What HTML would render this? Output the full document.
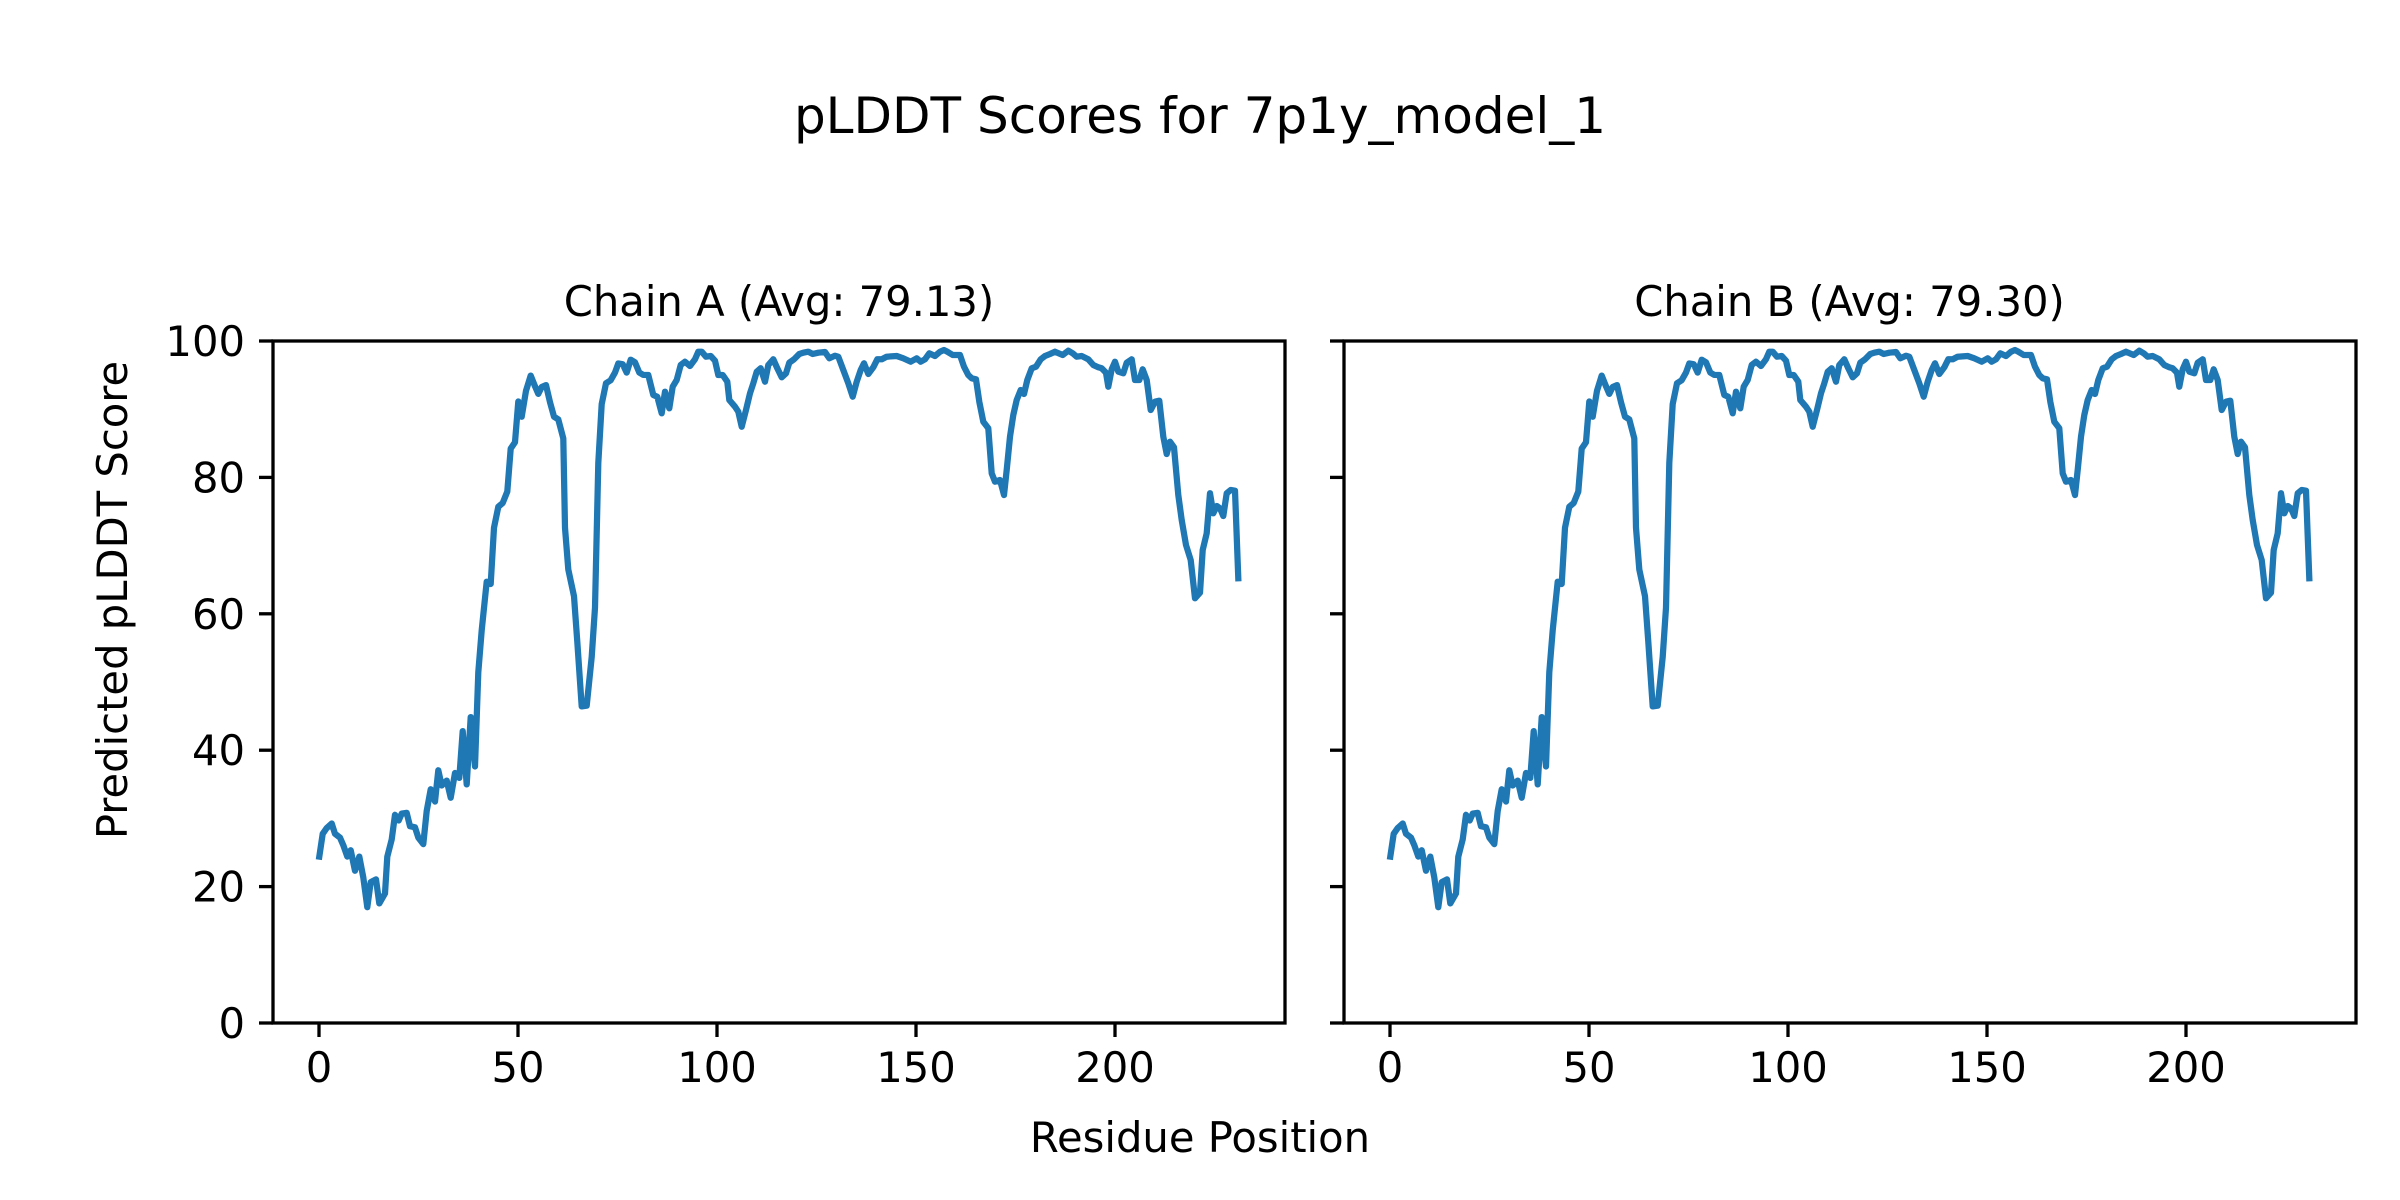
<!DOCTYPE html>
<html><head><meta charset="utf-8"><style>html,body{margin:0;padding:0;background:#fff}svg{display:block}</style></head>
<body>
<svg width="2400" height="1200" viewBox="0 0 2400 1200" xmlns="http://www.w3.org/2000/svg" font-family="DejaVu Sans, Liberation Sans, sans-serif">
<rect width="2400" height="1200" fill="#fff"/>
<text x="1200" y="133" font-size="50" text-anchor="middle">pLDDT Scores for 7p1y_model_1</text>
<text x="779" y="316" font-size="41.7" text-anchor="middle">Chain A (Avg: 79.13)</text>
<text x="1849.5" y="316" font-size="41.7" text-anchor="middle">Chain B (Avg: 79.30)</text>
<text x="1200" y="1152" font-size="41.7" text-anchor="middle">Residue Position</text>
<text transform="translate(127,600) rotate(-90)" font-size="41.7" text-anchor="middle">Predicted pLDDT Score</text>
<defs>
<polyline id="series" fill="none" stroke="#1f77b4" stroke-width="6.25" stroke-linejoin="round" stroke-linecap="square" points="319.3,856.6 322.7,833.8 326.7,828.1 331.7,823.5 335,833.8 340,837.6 343.3,845.2 347.3,856.6 350.7,850.2 355,870.7 359.3,856.6 363.3,877.5 367.3,907.2 370.7,882.1 376,879.4 379.3,903.4 385,893.5 387.3,856.6 391.7,839.5 395,814.8 398.7,820.5 401.7,813.6 406.7,812.9 410,826.2 415,827.3 418.3,837.6 423.3,844.1 426.7,811 430.7,789.3 435,801.5 438.3,770.3 441.7,785.5 446.7,780.6 450.7,797.7 455,773 459.3,777.9 462.7,731.1 466.7,784.4 470.7,717.1 475,766.5 478.3,672.2 481.7,630.4 486.7,581.7 490.7,584 494,527.7 498.3,506.8 502.7,503 507.3,491.6 510.7,448.6 515,442.2 518.3,401.5 521.7,416.7 526,390.8 530.7,375.6 535,386.3 538.3,393.9 541.7,387 546,385.1 550,402.2 554,416.7 558.3,419.4 563.3,438.4 565,527.7 568.3,569.5 574,596.2 577.3,641.8 581.7,706.4 586.7,705.7 591.7,657 595,607.6 598.3,463.1 601.7,404.1 606,383.2 610.7,380.2 615,372.6 618.3,363.5 622.7,364.2 626.7,372.6 630.7,359.7 635,362.3 639.3,372.6 643.3,374.9 648.3,375 653.3,395 657.3,396.7 661.7,413.3 665,391.7 669.3,408.3 672.7,386.7 676.7,380 680.7,365 685,361.7 690,366 695,359.3 698.3,351.7 701.7,351.7 706,356.7 710.7,356 715,360.7 718.3,375 722.7,375 727.3,381.7 729.3,400 735,406.7 738.3,411.7 741.7,426.7 746,410 750,393.3 753.3,383.3 756.7,371.7 760.7,368.3 765,381.7 768.3,365 773.3,359.3 777.3,368.3 781.7,377.3 786,373.3 789.3,362.7 794,359.3 799.3,354 803.3,352.7 808.3,351.7 812.7,354 818.3,352.7 825,352 829.3,358.3 835,355.7 838.3,356.7 843.3,370 848.3,383.3 852.7,396.7 856.7,381.7 860.7,370 864,363.3 868.3,374 873.3,367.3 877.3,359.3 881.7,359.3 886.7,356.7 896.7,356 903.3,358.3 910.7,361.7 916.7,358.3 920.7,361.7 925,359.3 929.3,353.3 935,356 940,351.7 944,350 947.3,351.7 952.7,355 960,355 964,366.7 968.3,375 971.7,378.3 976,379.3 979.3,401.7 983.3,421.7 988.3,428.3 991.7,473.3 995,481.7 1000,480 1004,495 1006.7,470 1010,436.7 1013.3,415 1016.7,400 1020.7,390 1024,394 1027.3,380 1031.7,368.3 1036,366.7 1040.7,359.3 1045,356 1050,354 1055,351.7 1062.7,355 1068.3,350.7 1072.7,353.3 1076.7,356.7 1081.7,356 1088.3,359.3 1093.3,365 1098.3,367.3 1101.7,368.3 1106,372.7 1108.3,386.7 1111.7,369.3 1115,361.7 1118.3,371.7 1123.3,373.3 1126.7,362.7 1131.7,359.3 1135,380 1139.3,380 1142.7,369.3 1146.7,380 1150.7,410 1155,401.7 1159.3,400.7 1163.3,436.7 1166.7,454 1170,441.7 1174,447.3 1178.3,495 1181.7,520 1186,545 1190.7,560 1195,598.3 1200,592.7 1202.7,550 1206.7,533.3 1210,493.3 1213.3,513.3 1216.7,506 1220,508.3 1223.3,516 1226.7,493.3 1230.7,490 1235,490.7 1238.3,578.3"/>
</defs>
<!-- Axes A -->
<use href="#series"/>
<rect x="273" y="341" width="1012" height="682" fill="none" stroke="#000" stroke-width="3.3"/>
<g stroke="#000" stroke-width="3.3">
<line x1="259" y1="1023" x2="273" y2="1023"/><line x1="259" y1="886.6" x2="273" y2="886.6"/><line x1="259" y1="750.2" x2="273" y2="750.2"/><line x1="259" y1="613.8" x2="273" y2="613.8"/><line x1="259" y1="477.4" x2="273" y2="477.4"/><line x1="259" y1="341" x2="273" y2="341"/>
<line x1="319" y1="1023" x2="319" y2="1037"/><line x1="518" y1="1023" x2="518" y2="1037"/><line x1="717" y1="1023" x2="717" y2="1037"/><line x1="916" y1="1023" x2="916" y2="1037"/><line x1="1115" y1="1023" x2="1115" y2="1037"/>
</g>
<g font-size="41.7" text-anchor="end">
<text x="245" y="1038">0</text><text x="245" y="901.6">20</text><text x="245" y="765.2">40</text><text x="245" y="628.8">60</text><text x="245" y="492.4">80</text><text x="245" y="356">100</text>
</g>
<g font-size="41.7" text-anchor="middle">
<text x="319" y="1082">0</text><text x="518" y="1082">50</text><text x="717" y="1082">100</text><text x="916" y="1082">150</text><text x="1115" y="1082">200</text>
</g>
<!-- Axes B -->
<g transform="translate(1071,0)">
<use href="#series"/>
<rect x="273" y="341" width="1012" height="682" fill="none" stroke="#000" stroke-width="3.3"/>
<g stroke="#000" stroke-width="3.3">
<line x1="259" y1="1023" x2="273" y2="1023"/><line x1="259" y1="886.6" x2="273" y2="886.6"/><line x1="259" y1="750.2" x2="273" y2="750.2"/><line x1="259" y1="613.8" x2="273" y2="613.8"/><line x1="259" y1="477.4" x2="273" y2="477.4"/><line x1="259" y1="341" x2="273" y2="341"/>
<line x1="319" y1="1023" x2="319" y2="1037"/><line x1="518" y1="1023" x2="518" y2="1037"/><line x1="717" y1="1023" x2="717" y2="1037"/><line x1="916" y1="1023" x2="916" y2="1037"/><line x1="1115" y1="1023" x2="1115" y2="1037"/>
</g>
<g font-size="41.7" text-anchor="middle">
<text x="319" y="1082">0</text><text x="518" y="1082">50</text><text x="717" y="1082">100</text><text x="916" y="1082">150</text><text x="1115" y="1082">200</text>
</g>
</g>
</svg>
</body></html>
